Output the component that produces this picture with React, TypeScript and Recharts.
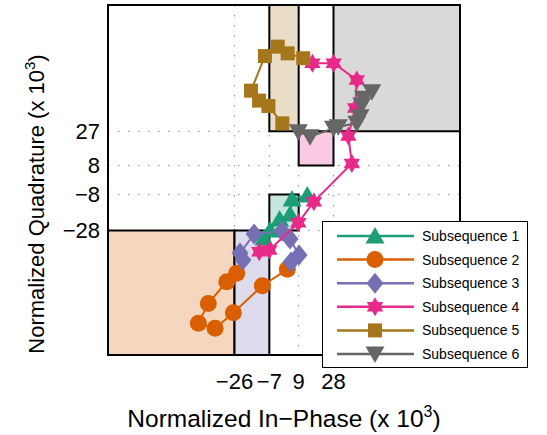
import React from "react";
import { CartesianGrid, ReferenceArea, Scatter, ScatterChart, XAxis, YAxis } from "recharts";

// tick positions (x 10^3)
const xTicks = [-26, -7, 9, 28];
const yTicks = [-28, -8, 8, 27];

const seriesNames = [
  "Subsequence 1",
  "Subsequence 2",
  "Subsequence 3",
  "Subsequence 4",
  "Subsequence 5",
  "Subsequence 6",
];
const seriesColors = ["#1b9e77", "#d95f02", "#7570b3", "#e7298a", "#a6761d", "#666666"];
// same hues at 25% on white
const regionFills = ["#c6e7dd", "#f5d7c0", "#dddbec", "#f9cae2", "#e9ddc7", "#d9d9d9"];

// decision regions [x1, x2, y1, y2], one per subsequence
const regions = [
  [-7, 9, -28, -8],
  [-95, -26, -97, -28],
  [-26, -7, -97, -28],
  [9, 28, 8, 27],
  [-7, 9, 27, 97],
  [28, 97, 27, 97],
];

// I/Q points
const sub1 = [[-9.9, -32.2], [-6.6, -27.7], [-1.4, -21.6], [4.3, -18.9], [5.4, -10.5], [13.7, -8.3]];
const sub2 = [[2.8, -49.5], [-10.8, -58.6], [-26.6, -73.6], [-36.6, -82.2], [-45.7, -79.4], [-40.3, -68.4], [-30.2, -56.4], [-24.8, -51.7]];
const sub3 = [[-21.4, -44.4], [-23, -40.5], [-15.3, -30], [-0.1, -28.3], [4.3, -32.7], [9.2, -41.6], [4.8, -45.5]];
const sub4 = [[-12.5, -39.8], [-7, -38.8], [8.8, -23.7], [17.3, -12], [38, 9.2], [36.1, 24.4], [39.8, 39.9], [40.7, 55.4], [28.1, 64.7], [16.5, 64.7]];
const sub5 = [[0.1, 31.4], [-7.5, 41], [-12.6, 44], [-17, 49.5], [-9.4, 68.7], [-2.4, 73.9], [3, 70.2], [11.5, 67.5]];
const sub6 = [[8.8, 26.8], [15.2, 24], [28, 28.7], [30.6, 29.5], [40.7, 31.4], [42.5, 35.1], [43.4, 41.6], [44.3, 45.3], [48.9, 48.9]];

const allSubs = [sub1, sub2, sub3, sub4, sub5, sub6];

const FONT = "'Liberation Sans', Arial, Helvetica, sans-serif";

const fmt = (v: number) => (v < 0 ? "\u2212" + Math.abs(v) : String(v));

type MarkProps = { cx?: number; cy?: number; fill: string };

function TriUp({ cx = 0, cy = 0, fill }: MarkProps) {
  return <polygon points={`${cx},${cy - 9} ${cx + 9.5},${cy + 7.5} ${cx - 9.5},${cy + 7.5}`} fill={fill} />;
}
function TriDown({ cx = 0, cy = 0, fill }: MarkProps) {
  return <polygon points={`${cx},${cy + 9} ${cx + 9.5},${cy - 7.5} ${cx - 9.5},${cy - 7.5}`} fill={fill} />;
}
function Dot({ cx = 0, cy = 0, fill }: MarkProps) {
  return <circle cx={cx} cy={cy} r={8.5} fill={fill} />;
}
function Diamond({ cx = 0, cy = 0, fill }: MarkProps) {
  return <polygon points={`${cx},${cy - 10.5} ${cx + 8.5},${cy} ${cx},${cy + 10.5} ${cx - 8.5},${cy}`} fill={fill} />;
}
function Square({ cx = 0, cy = 0, fill }: MarkProps) {
  return <rect x={cx - 7} y={cy - 7} width={14} height={14} fill={fill} />;
}
function Hexagram({ cx = 0, cy = 0, fill }: MarkProps) {
  const pts: string[] = [];
  for (let i = 0; i < 12; i++) {
    const r = i % 2 === 0 ? 9.5 : 5.5;
    const a = -Math.PI / 2 + (i * Math.PI) / 6;
    pts.push(`${cx + r * Math.cos(a)},${cy + r * Math.sin(a)}`);
  }
  return <polygon points={pts.join(" ")} fill={fill} />;
}

const markers = [TriUp, Dot, Diamond, Hexagram, Square, TriDown];

function LegendBox() {
  const rows = [14, 37.6, 61.2, 84.8, 108.4, 132];
  return (
    <div
      style={{
        position: "absolute",
        left: 322,
        top: 221,
        width: 206,
        height: 147,
        boxSizing: "border-box",
        border: "1.5px solid #000",
        background: "#fff",
      }}
    >
      <svg width={204} height={144}>
        {seriesNames.map((name, i) => {
          const M = markers[i];
          const y = rows[i];
          return (
            <g key={name}>
              <line x1={14} x2={91} y1={y} y2={y} stroke={seriesColors[i]} strokeWidth={2.5} />
              <M cx={52} cy={y} fill={seriesColors[i]} />
              <text x={99} y={y} dy="0.35em" fontSize={14} fontFamily={FONT} fill="#000">
                {name}
              </text>
            </g>
          );
        })}
      </svg>
    </div>
  );
}

export default function App() {
  return (
    <div style={{ position: "absolute", left: 0, top: 0, width: 547, height: 435, fontFamily: FONT }}>
      <ScatterChart width={547} height={435} margin={{ top: 5, right: 87, bottom: 0, left: 0 }}>
        <CartesianGrid stroke="#8c8c8c" strokeDasharray="1.5 8.5" strokeWidth={1} />
        <XAxis
          type="number"
          dataKey="x"
          domain={[-95, 97]}
          ticks={xTicks}
          tickFormatter={fmt}
          height={80}
          axisLine={false}
          tickLine={false}
          tickMargin={12}
          tick={{ fill: "#000", fontSize: 22, fontFamily: FONT }}
          interval={0}
          allowDataOverflow
          label={{
            content: () => (
              <text x={284} y={427} textAnchor="middle" fontSize={24.5} fontFamily={FONT} fill="#000">
                Normalized In{"\u2212"}Phase (x 10
                <tspan dy={-10} fontSize={16}>3</tspan>
                <tspan dy={10}>)</tspan>
              </text>
            ),
          }}
        />
        <YAxis
          type="number"
          dataKey="y"
          domain={[-97, 97]}
          ticks={yTicks}
          tickFormatter={fmt}
          width={108}
          axisLine={false}
          tickLine={false}
          tick={{ fill: "#000", fontSize: 22, fontFamily: FONT }}
          interval={0}
          allowDataOverflow
          label={{
            content: () => (
              <text
                x={44}
                y={204}
                transform="rotate(-90, 44, 204)"
                textAnchor="middle"
                fontSize={22}
                fontFamily={FONT}
                fill="#000"
              >
                Normalized Quadrature (x 10
                <tspan dy={-9} fontSize={15}>3</tspan>
                <tspan dy={9}>)</tspan>
              </text>
            ),
          }}
        />
        {regions.map((r, i) => (
          <ReferenceArea
            key={"reg" + i}
            x1={r[0]}
            x2={r[1]}
            y1={r[2]}
            y2={r[3]}
            fill={regionFills[i]}
            fillOpacity={1}
            stroke="#000"
            strokeWidth={2}
            ifOverflow="visible"
          />
        ))}
        <ReferenceArea x1={-95} x2={97} y1={-97} y2={97} fill="none" stroke="#000" strokeWidth={2} ifOverflow="visible" />
        {allSubs.map((pts, i) => {
          const M = markers[i];
          const color = seriesColors[i];
          return (
            <Scatter
              key={seriesNames[i]}
              name={seriesNames[i]}
              data={pts.map(([x, y]) => ({ x, y }))}
              fill={color}
              line={{ stroke: color, strokeWidth: 2 }}
              lineType="joint"
              shape={(p: any) => <M cx={p.cx} cy={p.cy} fill={color} />}
              isAnimationActive={false}
            />
          );
        })}
      </ScatterChart>
      <LegendBox />
    </div>
  );
}
